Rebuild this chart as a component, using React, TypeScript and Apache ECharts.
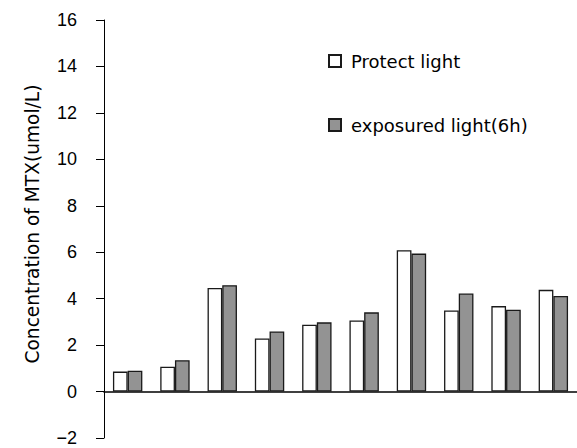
import React, { useEffect, useRef } from "react";
import * as echarts from "echarts";

const categories = ["1", "2", "3", "4", "5", "6", "7", "8", "9", "10"];
const protectLight = [0.86, 1.07, 4.46, 2.29, 2.88, 3.06, 6.09, 3.49, 3.68, 4.38];
const exposedLight = [0.9, 1.35, 4.58, 2.59, 2.98, 3.41, 5.94, 4.22, 3.52, 4.12];
const seriesNames = ["Protect light", "exposured light(6h)"];
const yAxisName = "Concentration of MTX(umol/L)";

export default function App() {
  const ref = useRef<HTMLDivElement>(null);
  useEffect(() => {
    if (!ref.current) return;
    const chart = echarts.init(ref.current, undefined, { renderer: "svg" });
    chart.setOption({
      animation: false,
      backgroundColor: "#ffffff",
      grid: { left: 104, top: 20, width: 480, bottom: 10, containLabel: false },
      legend: {
        orient: "vertical",
        left: 323,
        top: 47,
        itemWidth: 12,
        itemHeight: 12,
        itemGap: 46,
        icon: "rect",
        data: seriesNames,
        textStyle: {
          fontFamily: "DejaVu Sans",
          fontSize: 18,
          color: "#000",
          padding: [0, 0, 0, 5],
        },
      },
      xAxis: {
        type: "category",
        data: categories,
        axisLine: { show: true, onZero: true, lineStyle: { color: "#000", width: 1.6 } },
        axisTick: { show: false },
        axisLabel: { show: false },
        splitLine: { show: false },
      },
      yAxis: {
        type: "value",
        min: -2,
        max: 16,
        interval: 2,
        name: yAxisName,
        nameLocation: "middle",
        nameGap: 62,
        nameTextStyle: {
          fontFamily: "DejaVu Sans",
          fontSize: 18.6,
          color: "#000",
          padding: [0, 0, 0, 10],
        },
        axisLine: { show: true, lineStyle: { color: "#000", width: 1 } },
        axisTick: { show: true, inside: false, length: 8, lineStyle: { color: "#000" } },
        axisLabel: {
          margin: 27,
          fontFamily: "Liberation Sans",
          fontSize: 18,
          color: "#000",
          formatter: (v: number) => String(v).replace("-", "\u2212"),
        },
        splitLine: { show: false },
      },
      series: [
        {
          name: seriesNames[0],
          type: "bar",
          data: protectLight,
          barWidth: 14.7,
          barGap: "0%",
          itemStyle: { color: "#ffffff", borderColor: "#1a1a1a", borderWidth: 1.3 },
        },
        {
          name: seriesNames[1],
          type: "bar",
          data: exposedLight,
          barWidth: 14.7,
          barGap: "0%",
          itemStyle: { color: "#939393", borderColor: "#1a1a1a", borderWidth: 1.3 },
        },
      ],
    });
    return () => chart.dispose();
  }, []);
  return (
    <div
      ref={ref}
      style={{ position: "fixed", left: 0, top: 0, width: 577, height: 448 }}
    />
  );
}
